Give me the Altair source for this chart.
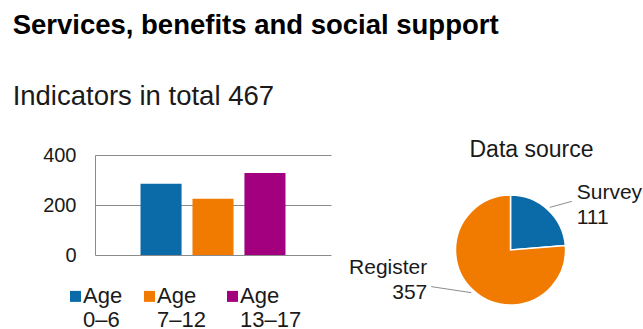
import altair as alt
import pandas as pd

# ---- data ----
age_groups = ["Age 0–6", "Age 7–12", "Age 13–17"]
age_values = [285, 225, 328]
y_ticks = [0, 200, 400]

sources = ["Survey", "Register"]
source_values = [111, 357]
source_order = [0, 1]

# ---- styles ----
bar_colors = ["#0b6aa8", "#f07b00", "#a3007f"]
source_colors = ["#0b6aa8", "#f07b00"]
FONT = "Liberation Sans"
TXT = "#1a1a1a"
GRID = "#8a8a8a"

BAR_W, BAR_H = 236, 100
PIE_W, PIE_H = 250, 190
R = 55

bars_df = pd.DataFrame({"group": age_groups, "value": age_values, "all": ["all"] * len(age_groups)})
pie_df = pd.DataFrame({"source": sources, "value": source_values, "order": source_order})

# square legend symbol, lifted so that its centre sits near the first label line
legend_square = "M0,-1.1H1V-0.1H0Z"

bars = alt.Chart(bars_df).mark_bar().encode(
    x=alt.X("all:N", axis=None, scale=alt.Scale(paddingInner=0, paddingOuter=0.314)),
    xOffset=alt.XOffset("group:N", sort=age_groups,
                        scale=alt.Scale(paddingInner=0.21, paddingOuter=0)),
    y=alt.Y("value:Q", scale=alt.Scale(domain=[0, 400]),
            axis=alt.Axis(values=y_ticks, title=None, grid=True, gridColor=GRID,
                          domainColor=GRID, ticks=False, labelFontSize=20,
                          labelPadding=19, labelColor=TXT, labelFont=FONT)),
    color=alt.Color("group:N", sort=age_groups,
                    scale=alt.Scale(domain=age_groups, range=bar_colors),
                    legend=alt.Legend(title=None, orient="none", legendX=-36, legendY=137,
                                      direction="horizontal", symbolType=legend_square,
                                      symbolSize=484, labelExpr="split(datum.label, ' ')",
                                      labelFontSize=22, labelFont=FONT, labelColor=TXT,
                                      columnPadding=10, labelOffset=2,
                                      labelBaseline="alphabetic",
                                      symbolStrokeWidth=0, symbolOpacity=1)),
).properties(width=BAR_W, height=BAR_H)

base = alt.Chart(pie_df).transform_joinaggregate(
    total="sum(value)"
).transform_window(
    cum="sum(value)", sort=[alt.SortField("order")], frame=[None, 0]
).transform_calculate(
    mid="(datum.cum - datum.value / 2) / datum.total * 2 * PI"
)

arcs = alt.Chart(pie_df).mark_arc(outerRadius=R, stroke="white", strokeWidth=1.5).encode(
    theta=alt.Theta("value:Q", stack=True),
    color=alt.Color("source:N", scale=alt.Scale(domain=sources, range=source_colors), legend=None),
    order=alt.Order("order:Q"),
)

leaders = base.transform_calculate(
    sx=f"{PIE_W / 2} + {R + 3} * sin(datum.mid)",
    sy=f"{PIE_H / 2} - {R + 3} * cos(datum.mid)",
).transform_calculate(
    ex="datum.sx + (sin(datum.mid) > 0 ? 22 : -40)",
    ey="datum.sy - 6",
).mark_rule(color="#8c8c8c", strokeWidth=1).encode(
    x=alt.X("sx:Q", scale=None, axis=None),
    y=alt.Y("sy:Q", scale=None, axis=None),
    x2="ex:Q",
    y2="ey:Q",
)

def label_layer(name, align, dx, dy):
    return base.transform_filter(f"datum.source == '{name}'").transform_calculate(
        label="datum.source + '\\n' + datum.value"
    ).mark_text(radius=80, align=align, baseline="alphabetic", dx=dx, dy=dy,
                fontSize=21, lineHeight=25, lineBreak="\n", font=FONT, color=TXT).encode(
        theta=alt.Theta("mid:Q", scale=None, stack=None),
        text="label:N",
    )

pie = alt.layer(
    arcs, leaders,
    label_layer("Survey", "left", 12, 8),
    label_layer("Register", "right", -29, -35),
).properties(
    width=PIE_W, height=PIE_H,
    title=alt.TitleParams("Data source", fontSize=23, font=FONT, fontWeight="normal",
                          anchor="middle", dx=21, offset=-7, color=TXT),
)

chart = alt.hconcat(bars, pie, spacing=54.5, bounds="flush").resolve_scale(
    color="independent", x="independent", y="independent"
).properties(
    title=alt.TitleParams(text="Services, benefits and social support",
                          subtitle="Indicators in total 467",
                          anchor="start", dx=-30, fontSize=27.5, fontWeight="bold",
                          subtitleFontSize=27.5, subtitleFontWeight="normal",
                          subtitlePadding=43, font=FONT, subtitleFont=FONT,
                          color="black", subtitleColor=TXT, offset=29),
    padding={"left": 12, "top": 12, "right": 0, "bottom": 0},
).configure_view(stroke=None)

chart.save("out.html", embed_options={"renderer": "svg", "actions": False})
